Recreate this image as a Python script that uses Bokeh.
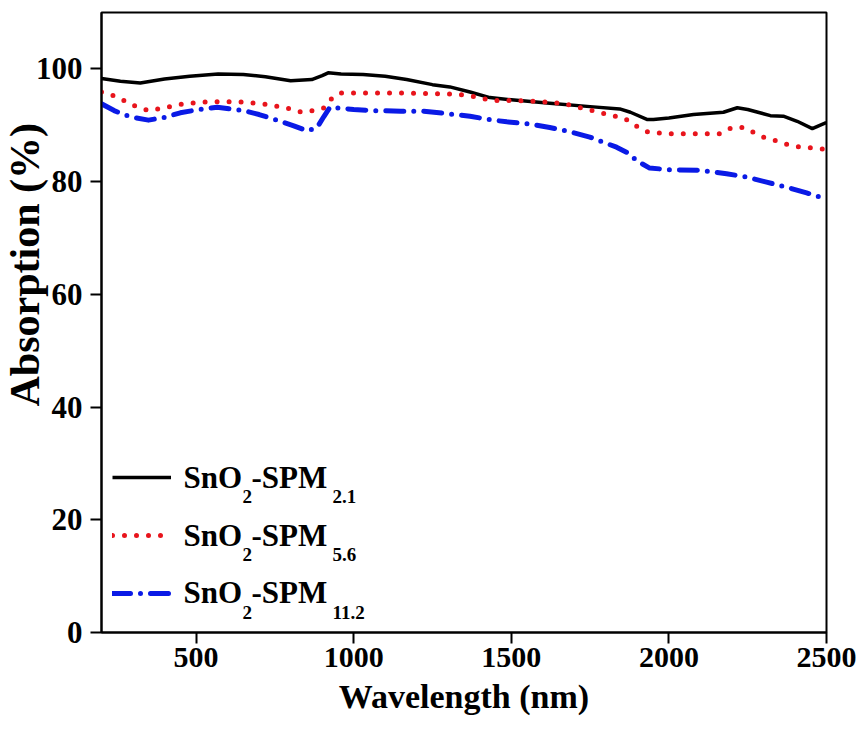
import numpy as np
from bokeh.plotting import figure
from bokeh.models import Legend, LegendItem, Range1d, FixedTicker, Title
from bokeh.core.properties import value
from bokeh.embed import file_html
from bokeh.resources import INLINE

# ---------------- data ----------------
x_ticks = [500, 1000, 1500, 2000, 2500]
y_ticks = [0, 20, 40, 60, 80, 100]

black_x = [200, 260, 323, 400, 480, 570, 650, 720, 800, 867, 900, 919, 960, 1030, 1100,
           1168, 1250, 1305, 1369, 1432, 1500, 1622, 1750, 1844, 1878, 1932, 1951, 2000,
           2078, 2173, 2217, 2250, 2322, 2363, 2407, 2455, 2475, 2497, 2500]
black_y = [98.3, 97.8, 97.5, 98.2, 98.7, 99.1, 99.0, 98.6, 97.9, 98.1, 98.8, 99.3, 99.1,
           99.0, 98.7, 98.1, 97.2, 96.8, 95.9, 94.9, 94.5, 93.9, 93.3, 92.9, 92.3, 91.0,
           91.0, 91.3, 91.9, 92.3, 93.1, 92.8, 91.7, 91.6, 90.7, 89.4, 89.9, 90.4, 90.5]

red_x = [200, 235, 270, 310, 349, 400, 460, 520, 577, 650, 725, 790, 836, 870, 904, 925,
         957, 1050, 1150, 1250, 1327, 1380, 1441, 1500, 1590, 1670, 1749, 1822, 1860, 1898,
         1933, 2000, 2100, 2160, 2201, 2236, 2274, 2300, 2337, 2375, 2411, 2449, 2500]
red_y = [95.9, 95.3, 94.4, 93.3, 92.6, 93.1, 93.8, 94.1, 94.2, 94.1, 93.7, 93.0, 92.3,
         92.6, 93.0, 94.5, 95.7, 95.7, 95.7, 95.6, 95.5, 95.1, 94.4, 94.4, 94.2, 93.8,
         92.7, 91.7, 91.2, 89.8, 88.8, 88.5, 88.5, 88.5, 89.6, 89.6, 88.6, 87.9, 87.3,
         86.6, 86.2, 86.0, 85.7]

blue_x = [200, 240, 270, 310, 349, 400, 450, 510, 567, 650, 700, 757, 810, 852, 884, 905,
          925, 1000, 1061, 1150, 1220, 1305, 1369, 1430, 1486, 1560, 1622, 1676, 1749, 1834,
          1869, 1901, 1939, 2004, 2099, 2183, 2246, 2310, 2374, 2437, 2500]
blue_y = [93.8, 92.6, 91.9, 91.3, 90.9, 91.4, 92.2, 92.8, 93.2, 92.6, 91.9, 90.9, 89.9,
          89.0, 89.6, 91.5, 93.2, 92.8, 92.6, 92.5, 92.5, 92.0, 91.6, 91.0, 90.6, 90.2,
          89.6, 89.0, 87.9, 86.1, 85.1, 83.6, 82.4, 82.1, 82.0, 81.4, 80.8, 79.9, 79.0,
          78.0, 76.9]

legend_main = ["SnO", "-SPM"]
legend_subs = [["2", "2.1"], ["2", "5.6"], ["2", "11.2"]]

x_label = "Wavelength (nm)"
y_label = "Absorption (%)"

X0, X1 = 200, 2500
Y0, Y1 = 0, 110

FONT = "Liberation Serif"

# frame on the page: x 101..826, y 12..632
FL, FR, FT, FB = 101, 826, 12, 632
W, H = 857, 729

# ---------------- figure ----------------
p = figure(width=W, height=H, output_backend="svg", toolbar_location=None,
           x_range=Range1d(X0, X1), y_range=Range1d(Y0, Y1),
           min_border_left=FL, min_border_right=W - FR, min_border_top=FT,
           min_border_bottom=H - FB)
p.background_fill_color = "white"
p.border_fill_color = "white"
p.grid.visible = False
p.outline_line_color = "black"
p.outline_line_width = 2
p.outline_line_alpha = 1

for ax in (p.xaxis[0], p.yaxis[0]):
    ax.axis_line_width = 2
    ax.axis_line_color = "black"
    ax.major_tick_line_width = 2
    ax.major_tick_line_color = "black"
    ax.major_tick_in = 0
    ax.major_tick_out = 11
    ax.minor_tick_line_color = None
    ax.major_label_text_font = FONT
    ax.major_label_text_font_style = "bold"
    ax.major_label_text_color = "black"

p.xaxis.major_label_text_font_size = "30px"
p.yaxis.major_label_text_font_size = "31px"
p.xaxis.ticker = FixedTicker(ticks=x_ticks)
p.yaxis.ticker = FixedTicker(ticks=y_ticks)
p.xaxis.major_label_standoff = 4
p.yaxis.major_label_standoff = 8

p.xaxis.axis_label = x_label
p.xaxis.axis_label_text_font = FONT
p.xaxis.axis_label_text_font_style = "bold"
p.xaxis.axis_label_text_font_size = "34px"
p.xaxis.axis_label_text_color = "black"
p.xaxis.axis_label_standoff = 8

ytitle = Title(text=y_label, align="left", offset=226, standoff=-31, vertical_align="bottom",
               text_font=FONT, text_font_style="bold", text_font_size="42px",
               text_color="black")
p.add_layout(ytitle, "left")

r1 = p.line(black_x, black_y, line_color="black", line_width=3.5, line_join="round")
r2 = p.line(red_x, red_y, line_color="#e8141c", line_width=5, line_dash="0 12",
            line_cap="round", line_join="round")
r3 = p.line(blue_x, blue_y, line_color="#0a1ae6", line_width=5, line_dash="18 10 0 10",
            line_cap="round", line_join="round")

legend = Legend(items=[LegendItem(label=" ", renderers=[r]) for r in (r1, r2, r3)],
                location=(11, 29), glyph_width=59, glyph_height=20, label_height=20,
                label_width=1, spacing=38, padding=0, margin=0,
                border_line_alpha=0, background_fill_alpha=0,
                label_text_font_size="1px", label_standoff=0)
p.add_layout(legend)


# page pixel -> data coordinates, for placing the legend texts
def to_data(px, py):
    return (X0 + (px - FL) / (FR - FL) * (X1 - X0), Y0 + (FB - py) / (FB - FT) * (Y1 - Y0))


MAIN_FS, SUB_FS = 31, 19
row_base = [488, 546, 603]
sub_base = [503, 561, 619]
main_x, main_y, main_t = [], [], []
sub_x, sub_y, sub_t = [], [], []
for i in range(3):
    for txt, px in ((legend_main[0], 183), (legend_main[1], 251)):
        dx, dy = to_data(px, row_base[i] - 0.36 * MAIN_FS)
        main_x.append(dx); main_y.append(dy); main_t.append(txt)
    for txt, px in ((legend_subs[i][0], 242), (legend_subs[i][1], 332)):
        dx, dy = to_data(px, sub_base[i] - 0.36 * SUB_FS)
        sub_x.append(dx); sub_y.append(dy); sub_t.append(txt)

p.text(x=main_x, y=main_y, text=main_t, text_font=value(FONT), text_font_style="bold",
       text_font_size=value(f"{MAIN_FS}px"), text_color="black", text_align="left",
       text_baseline="alphabetic")
p.text(x=sub_x, y=sub_y, text=sub_t, text_font=value(FONT), text_font_style="bold",
       text_font_size=value(f"{SUB_FS}px"), text_color="black", text_align="left",
       text_baseline="alphabetic")

open("out.html", "w").write(file_html(p, INLINE))
